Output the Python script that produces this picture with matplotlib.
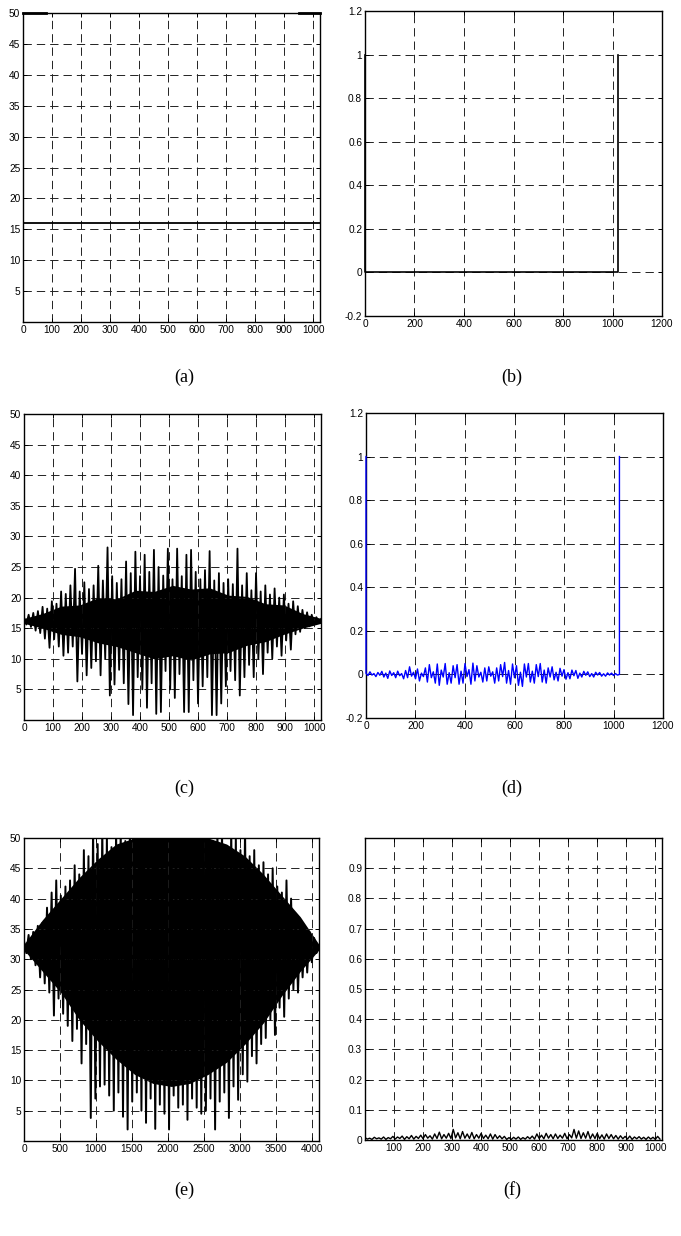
import matplotlib
matplotlib.use("Agg")
from matplotlib import pyplot as plt
import numpy as np

# ---------------- data ----------------

# (a) flat level and the short stubs drawn on the top edge
a_level = 16.1
a_stub_left = [0, 80]
a_stub_right = [950, 1024]
a_stub_val = 50

# (b) step: 1 at both ends, 0 in between
b_x = [0, 0, 1024, 1024]
b_y = [1, 0, 0, 1]

# (c) peaks (at 16k) and troughs (at 16k+8), plus the dense core band
c_hi = [16.8, 17.2, 17.5, 17.8, 18.5, 18.2, 19.4, 19.0, 21.0, 20.6, 22.0, 24.7, 21.0, 22.5, 21.4, 22.0,
        25.2, 22.8, 28.2, 23.5, 22.4, 23.0, 25.9, 24.0, 27.5, 23.5, 27.0, 24.2, 27.8, 25.0, 23.6, 28.0,
        23.0, 28.0, 23.5, 27.0, 27.8, 24.2, 23.0, 24.5, 27.6, 22.8, 24.0, 22.4, 23.0, 22.2, 28.0, 22.0,
        24.0, 21.2, 24.0, 21.0, 22.0, 20.5, 21.5, 20.0, 20.5, 19.0, 19.4, 18.6, 18.0, 17.6, 17.2, 16.8]
c_lo = [15.6, 15.2, 14.6, 14.2, 13.3, 11.8, 13.2, 12.0, 10.5, 11.0, 12.0, 6.3, 10.8, 7.3, 8.5, 9.6,
        7.3, 10.0, 4.0, 5.8, 8.2, 6.0, 2.6, 0.8, 7.0, 5.0, 2.0, 6.0, 1.0, 1.3, 8.0, 5.0,
        3.6, 7.5, 1.3, 1.3, 6.5, 2.7, 5.5, 7.0, 0.8, 0.8, 2.7, 5.5, 8.0, 6.5, 4.0, 7.0,
        9.0, 7.0, 10.0, 7.5, 11.0, 10.0, 12.0, 10.5, 13.0, 11.5, 14.0, 14.4, 15.0, 15.3, 15.6, 16.0]
c_core_x = list(range(0, 1025, 64))
c_core_top = [16.6, 17.4, 18.6, 18.8, 20.0, 19.8, 21.2, 21.0, 22.0, 21.4, 21.6, 20.4, 20.2, 19.0, 18.8, 17.4, 16.6]
c_core_bot = [15.8, 15.0, 14.0, 13.6, 12.6, 12.0, 11.0, 10.0, 10.5, 9.8, 10.8, 11.0, 12.2, 12.8, 14.0, 15.0, 15.8]

# (d) small residual (16k / 16k+8), with the 1 at both ends
d_hi = [0.005, 0.012, 0.004, 0.009, 0.014, 0.006, 0.016, 0.008, 0.015, 0.004, 0.018, 0.035, 0.010, 0.025, 0.006, 0.030,
        0.045, 0.012, 0.048, 0.020, 0.050, 0.008, 0.040, 0.045, 0.015, 0.050, 0.022, 0.052, 0.040, 0.010, 0.030, 0.035,
        0.012, 0.030, 0.045, 0.055, 0.018, 0.048, 0.040, 0.010, 0.048, 0.050, 0.015, 0.045, 0.050, 0.020, 0.030, 0.035,
        0.010, 0.028, 0.022, 0.008, 0.020, 0.018, 0.006, 0.014, 0.012, 0.004, 0.010, 0.009, 0.003, 0.007, 0.006, 0.004]
d_lo = [-0.005, -0.003, -0.010, -0.004, -0.012, -0.018, -0.005, -0.015, -0.006, -0.020, -0.015, -0.008, -0.020, -0.030, -0.010, -0.035,
        -0.015, -0.040, -0.050, -0.012, -0.045, -0.040, -0.015, -0.045, -0.040, -0.010, -0.045, -0.030, -0.012, -0.035, -0.030, -0.008,
        -0.040, -0.030, -0.010, -0.040, -0.045, -0.015, -0.050, -0.055, -0.012, -0.035, -0.040, -0.010, -0.035, -0.040, -0.012, -0.025,
        -0.030, -0.008, -0.022, -0.020, -0.006, -0.018, -0.012, -0.004, -0.010, -0.012, -0.003, -0.008, -0.008, -0.003, -0.005, -0.003]

# (e) peaks (at 64k) and troughs (at 64k+32), plus core band
e_hi = [33.0, 34.0, 34.5, 35.5, 36.0, 38.5, 41.0, 43.0, 40.5, 42.0, 43.0, 45.5, 44.0, 48.0, 47.0, 52.0,
        49.0, 52.0, 50.5, 48.5, 52.0, 52.0, 49.5, 52.0, 52.0, 52.0, 52.0, 52.0, 52.0, 52.0, 52.0, 52.0,
        52.0, 52.0, 52.0, 52.0, 52.0, 52.0, 52.0, 52.0, 52.0, 49.5, 52.0, 52.0, 48.5, 52.0, 50.5, 48.0,
        52.0, 47.0, 48.0, 45.5, 46.0, 44.0, 45.0, 42.0, 41.0, 43.0, 40.0, 37.5, 36.0, 35.0, 34.5, 33.5]
e_lo = [31.0, 30.0, 29.0, 27.0, 26.0, 24.5, 20.7, 23.5, 21.0, 19.0, 16.5, 18.5, 12.8, 16.0, 3.8, 7.0,
        9.0, 9.3, 7.5, 5.0, 8.0, 4.0, 1.9, 6.5, 8.0, 5.0, 3.0, 7.0, 2.0, 6.0, 4.5, 1.9,
        7.5, 5.5, 6.0, 3.5, 7.0, 5.5, 4.5, 5.0, 7.0, 1.9, 6.5, 8.0, 3.8, 9.0, 6.8, 11.0,
        9.8, 14.0, 12.8, 16.0, 17.0, 20.0, 17.5, 22.0, 20.5, 23.5, 25.0, 24.5, 27.0, 27.8, 29.5, 31.0]
e_core_x = list(range(0, 4097, 256))
e_core_top = [32.5, 36.5, 40.0, 43.5, 46.5, 49.0, 50.0, 50.0, 50.0, 50.0, 50.0, 49.0, 47.0, 44.0, 40.5, 37.0, 32.5]
e_core_bot = [31.5, 28.0, 24.5, 20.0, 16.5, 13.5, 11.0, 9.5, 9.0, 9.5, 11.0, 13.0, 16.0, 19.5, 24.0, 28.0, 31.5]

# (f) small non-negative residual (16k+1 / 16k+9)
f_hi = [0.008, 0.006, 0.009, 0.007, 0.010, 0.008, 0.012,
        0.010, 0.013, 0.011, 0.015, 0.012, 0.016,
        0.018, 0.014, 0.020, 0.026, 0.018, 0.022,
        0.035, 0.024, 0.028, 0.020, 0.025, 0.018,
        0.022, 0.016, 0.020, 0.018, 0.014, 0.012,
        0.008, 0.009, 0.010, 0.008, 0.011, 0.013,
        0.020, 0.016, 0.022, 0.018, 0.020, 0.016,
        0.022, 0.018, 0.035, 0.030, 0.024, 0.028,
        0.020, 0.022, 0.017, 0.020, 0.018, 0.015,
        0.014, 0.012, 0.013, 0.010, 0.011, 0.009,
        0.010, 0.009, 0.012]
f_lo = [0.003, 0.002, 0.004, 0.003, 0.002, 0.004, 0.003, 0.005, 0.002, 0.004, 0.003, 0.005, 0.004, 0.006, 0.003, 0.005,
        0.004, 0.006, 0.005, 0.007, 0.004, 0.006, 0.005, 0.004, 0.006, 0.005, 0.004, 0.003, 0.005, 0.004, 0.002, 0.002,
        0.003, 0.002, 0.003, 0.004, 0.003, 0.005, 0.004, 0.006, 0.004, 0.005, 0.006, 0.004, 0.007, 0.006, 0.005, 0.006,
        0.004, 0.005, 0.004, 0.003, 0.005, 0.004, 0.003, 0.004, 0.003, 0.002, 0.004, 0.003, 0.002, 0.003, 0.002, 0.003]

labels = ["(a)", "(b)", "(c)", "(d)", "(e)", "(f)"]


def zigzag(hi, lo, step, start=0):
    # put peaks and troughs in sample order
    xs, ys = [], []
    for k, (h, l) in enumerate(zip(hi, lo)):
        xs += [start + 2 * step * k, start + 2 * step * k + step]
        ys += [h, l]
    return np.array(xs), np.array(ys)


plt.rcParams['lines.scale_dashes'] = False
plt.rcParams['font.family'] = ['Liberation Sans', 'DejaVu Sans']

fig = plt.figure(figsize=[6.81, 12.36], dpi=100)

# axes boxes in pixels (left, top, right, bottom)
boxes = [(23, 13, 320, 322), (365, 11, 662, 316),
         (24, 414, 321, 720), (366, 413, 663, 718),
         (24, 838, 319, 1141), (365, 838, 662, 1140)]
W, H = 681, 1236
axes = []
for (l, t, r, b) in boxes:
    ax = fig.add_axes([l / W, 1 - b / H, (r - l) / W, (b - t) / H])
    ax.grid(True, color='#222222', linestyle=(0, (6, 3.6)), linewidth=0.7)
    ax.tick_params(direction='in', length=3, width=0.7, labelsize=7.3, pad=2,
                   top=True, right=True)
    for s in ax.spines.values():
        s.set_linewidth(1.0)
    axes.append(ax)

# (a)
ax = axes[0]
ax.axhline(a_level, color='k', lw=1.3)
ax.plot(a_stub_left, [a_stub_val] * 2, color='k', lw=2, clip_on=False)
ax.plot(a_stub_right, [a_stub_val] * 2, color='k', lw=2, clip_on=False)
ax.set_xlim(0, 1024)
ax.set_ylim(0, 50)
ax.set_xticks(range(0, 1001, 100))
ax.set_yticks(range(5, 51, 5))

# (b)
ax = axes[1]
ax.plot(b_x, b_y, color='k', lw=1.2, clip_on=False, zorder=3)
ax.set_xlim(0, 1200)
ax.set_ylim(-0.2, 1.2)
ax.set_xticks(range(0, 1201, 200))
ax.set_yticks([-0.2, 0, 0.2, 0.4, 0.6, 0.8, 1, 1.2])
ax.set_yticklabels(["-0.2", "0", "0.2", "0.4", "0.6", "0.8", "1", "1.2"])

# (c)
ax = axes[2]
ax.fill_between(c_core_x, c_core_bot, c_core_top, color='k', lw=0)
cx, cy = zigzag(c_hi, c_lo, 8)
ax.plot(np.append(cx, 1024), np.append(cy, 16.5), color='k', lw=1.3)
ax.set_xlim(0, 1024)
ax.set_ylim(0, 50)
ax.set_xticks(range(0, 1001, 100))
ax.set_yticks(range(5, 51, 5))

# (d)
ax = axes[3]
dx, dy = zigzag(d_hi, d_lo, 8)
dx = np.concatenate([[0], dx, [1024, 1024]])
dy = np.concatenate([[1], dy, [0, 1]])
ax.plot(dx, dy, color='#0000ff', lw=1.0, clip_on=False, zorder=3)
ax.set_xlim(0, 1200)
ax.set_ylim(-0.2, 1.2)
ax.set_xticks(range(0, 1201, 200))
ax.set_yticks([-0.2, 0, 0.2, 0.4, 0.6, 0.8, 1, 1.2])
ax.set_yticklabels(["-0.2", "0", "0.2", "0.4", "0.6", "0.8", "1", "1.2"])

# (e)
ax = axes[4]
ax.fill_between(e_core_x, e_core_bot, e_core_top, color='k', lw=0)
ex, ey = zigzag(e_hi, e_lo, 32)
ax.plot(np.append(ex, 4096), np.append(ey, 32), color='k', lw=1.4)
ax.set_xlim(0, 4100)
ax.set_ylim(0, 50)
ax.set_xticks(range(0, 4001, 500))
ax.set_yticks(range(5, 51, 5))

# (f)
ax = axes[5]
fx, fy = zigzag(f_hi, f_lo, 8, start=1)
ax.plot(fx, fy, color='k', lw=1.0)
ax.set_xlim(1, 1024)
ax.set_ylim(0, 1)
ax.set_xticks(range(100, 1001, 100))
ax.set_yticks([0, 0.1, 0.2, 0.3, 0.4, 0.5, 0.6, 0.7, 0.8, 0.9, 1])
ax.set_yticklabels(["0", "0.1", "0.2", "0.3", "0.4", "0.5", "0.6", "0.7", "0.8", "0.9", ""])

# captions under each panel
cap_pos = [(184, 377), (512, 377), (184, 788), (512, 788), (184, 1190), (512, 1190)]
for (x, y), lab in zip(cap_pos, labels):
    fig.text(x / W, 1 - y / H, lab, ha='center', va='center',
             fontsize=13, family=['Liberation Serif', 'DejaVu Serif'])

fig.savefig("out.png", dpi=100)
